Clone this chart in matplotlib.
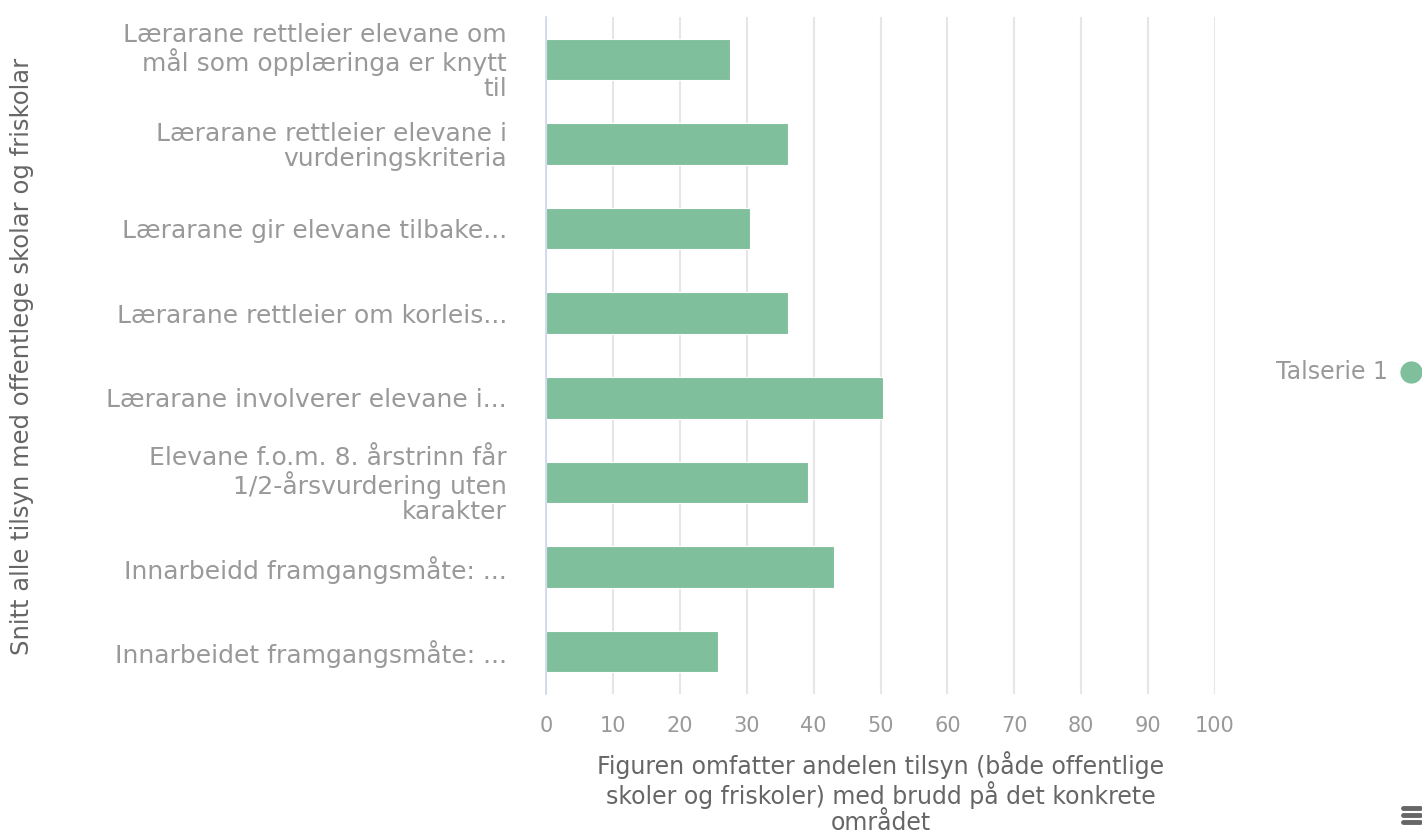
import matplotlib
matplotlib.use("Agg")
import matplotlib.pyplot as plt
from matplotlib.lines import Line2D

categories = [
    "Lærarane rettleier elevane om\nmål som opplæringa er knytt\ntil",
    "Lærarane rettleier elevane i\nvurderingskriteria",
    "Lærarane gir elevane tilbake...",
    "Lærarane rettleier om korleis...",
    "Lærarane involverer elevane i...",
    "Elevane f.o.m. 8. årstrinn får\n1/2-årsvurdering uten\nkarakter",
    "Innarbeidd framgangsmåte: ...",
    "Innarbeidet framgangsmåte: ...",
]
values = [27.5, 36.1, 30.5, 36.1, 50.4, 39.1, 43.0, 25.7]
xticks = [0, 10, 20, 30, 40, 50, 60, 70, 80, 90, 100]
series_name = "Talserie 1"
x_title = "Figuren omfatter andelen tilsyn (både offentlige\nskoler og friskoler) med brudd på det konkrete\nområdet"
y_title = "Snitt alle tilsyn med offentlege skolar og friskolar"

plt.rcParams['font.family'] = ['DejaVu Sans']
bar_color = "#7fbf9c"
label_color = "#999999"
title_color = "#666666"

fig = plt.figure(figsize=(14.22, 8.34), dpi=100)
ax = fig.add_axes([546/1422, 1-694/834, (1215-546)/1422, (694-17)/834])

ypos = list(range(len(categories)))
ax.barh(ypos, values, height=0.49, color=bar_color, edgecolor="white", linewidth=0.8, zorder=3)
ax.set_ylim(len(categories)-0.5, -0.5)
ax.set_xlim(0, 100)
ax.set_xticks(xticks)
ax.set_xticklabels([str(t) for t in xticks], color=label_color, fontsize=15)
ax.set_yticks(ypos)
ax.set_yticklabels(categories, color=label_color, fontsize=18, linespacing=1.05)
ax.tick_params(axis='y', length=0, pad=28)
ax.tick_params(axis='x', length=0, pad=16)
ax.grid(axis='x', color="#e6e6e6", linewidth=1.5, zorder=0)
for s in ['top', 'right', 'bottom']:
    ax.spines[s].set_visible(False)
ax.spines['left'].set_color("#ccd6eb")
ax.spines['left'].set_linewidth(1.2)
ax.spines['left'].set_zorder(4)

ax.set_xlabel(x_title, color=title_color, fontsize=17, labelpad=11, linespacing=1.08)
fig.text(22/1422, 1-356/834, y_title, rotation=90, ha='center', va='center',
         color=title_color, fontsize=17.5)

# legend
fig.text(1388/1422, 1-372/834, series_name, ha='right', va='center', color=label_color, fontsize=17)
fig.add_artist(Line2D([1411/1422], [1-372/834], marker='o', markersize=15, color=bar_color,
                      linestyle='none', transform=fig.transFigure))

# menu icon
for yy in [808, 815, 822]:
    fig.add_artist(Line2D([1403/1422, 1420/1422], [1-yy/834]*2, color="#666666", linewidth=3.5,
                          solid_capstyle='round', transform=fig.transFigure))

fig.savefig("out.png", dpi=100)
